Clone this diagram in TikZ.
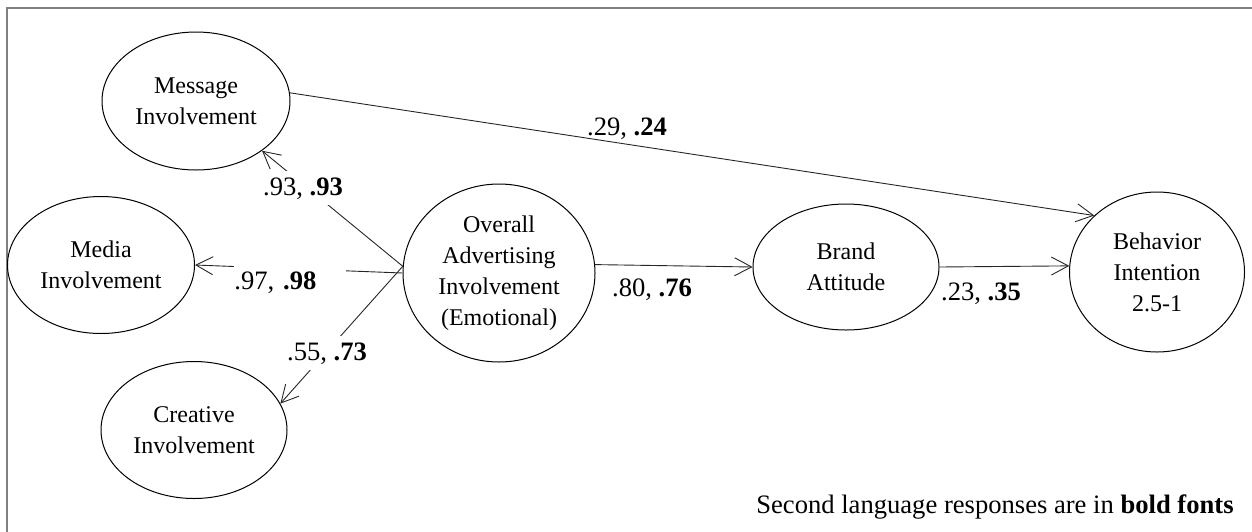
\documentclass[tikz,border=0pt]{standalone}
\usepackage{fontspec}
\setmainfont{Liberation Serif}
\usetikzlibrary{shapes.geometric,arrows.meta}
\definecolor{framegray}{RGB}{128,128,128}
\begin{document}
\begin{tikzpicture}[x=0.5pt,y=-0.5pt,
  construct/.style={ellipse,draw=black,line width=0.5pt,inner sep=0pt,align=center,
    font=\fontsize{12}{15.5}\selectfont},
  link/.style={draw=black!85,line width=0.45pt,
    -{Straight Barb[length=8.5pt,width=9pt,line width=0.45pt]}},
  coef/.style={fill=white,inner xsep=1pt,inner ysep=3pt,anchor=base,
    font=\fontsize{13.3}{15}\selectfont}]
\useasboundingbox (0,0) rectangle (1252,531);
% outer frame (left and top edges)
\draw[framegray,line width=1pt] (7,545) -- (7,8) -- (1260,8);

% latent constructs
\node[construct,minimum width=94pt,minimum height=69pt] (msg) at (196,101) {Message\\Involvement};
\node[construct,minimum width=93.5pt,minimum height=68.5pt] (med) at (101,265) {Media\\Involvement};
\node[construct,minimum width=93pt,minimum height=68.5pt] (cre) at (194,430) {Creative\\Involvement};
\node[construct,minimum width=96pt,minimum height=89pt] (ov) at (499,273) {Overall\\Advertising\\Involvement\\(Emotional)};
\node[construct,minimum width=93pt,minimum height=63pt] (br) at (846,267) {Brand\\Attitude};
\node[construct,minimum width=87.5pt,minimum height=80pt] (beh) at (1157,272) {Behavior\\Intention\\2.5-1};

% structural paths
\draw[link] (ov.176) -- (msg.-37);
\draw[link] (ov.west) -- (med.east);
\draw[link] (ov.176) -- (cre.17);
\draw[link] (ov.5) -- (br.west);
\draw[link] (br.east) -- (beh.176);
\draw[link] (msg.5) -- (beh.138);

% path coefficients
\node[coef] (c1) at (303,195) {.93, \textbf{.93}};
\node[coef,anchor=base west,text width=56pt,align=left,inner xsep=0pt] (c2) at (234,289) {.97, \textbf{.98}};
\node[coef] (c3) at (327,360) {.55, \textbf{.73}};
\node[coef,fill=none] (c4) at (627,135) {.29, \textbf{.24}};
\node[coef] (c5) at (652,296) {.80, \textbf{.76}};
\node[coef] (c6) at (981,300) {.23, \textbf{.35}};

% note
\node[anchor=base east,inner sep=0pt,font=\fontsize{13.3}{15}\selectfont] (note) at (1234,513)
  {Second language responses are in \textbf{bold fonts}};
\end{tikzpicture}
\end{document}
